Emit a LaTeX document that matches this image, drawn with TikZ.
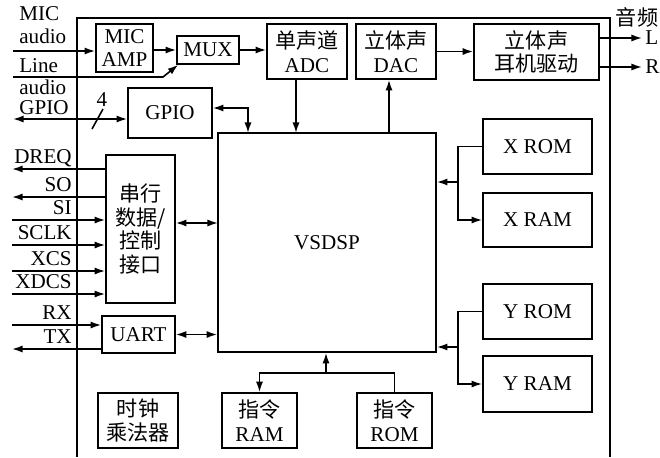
\documentclass[tikz,border=0pt]{standalone}
\usepackage{fontspec}
\setmainfont{Liberation Serif}
\newfontfamily\cjk{Noto Sans CJK SC}
\usetikzlibrary{positioning,arrows.meta,calc}
\tikzset{
  blk/.style  ={draw, line width=0.9pt, inner sep=0pt, align=center,
                font=\fontsize{12}{13.5}\selectfont},
  wire/.style ={draw, line width=0.9pt},
  sig/.style  ={wire, -{Latex[length=6pt,width=4pt]}},
  bisig/.style={wire, {Latex[length=6pt,width=4pt]}-{Latex[length=6pt,width=4pt]}},
  pin/.style  ={font=\fontsize{12}{13}\selectfont, inner sep=0pt},
}

\begin{document}
\begin{tikzpicture}[x=0.02cm,y=-0.02cm]
\useasboundingbox (0,0) rectangle (660,457);
% chip outline, runs off the bottom
\draw[line width=0.9pt] (77,457) -- (77,18) -- (610,18) -- (610,457);
\foreach \n/\x/\y/\w/\h/\t in {%
   micamp/124.5/48/57/48/{MIC\\AMP}, mux/208/50/62/28/MUX,
   adc/307/51.5/80/55/{{\cjk 单声道}\\ADC}, dac/396/51.5/80/55/{{\cjk 立体声}\\DAC},
   hp/536.5/52/125/56/{{\cjk 立体声}\\{\cjk 耳机驱动}},
   gpio/170/113/84/50/GPIO, dsp/327/242.5/218/219/VSDSP,
   sdi/140.5/229/69/148/{{\cjk 串行}\\{\cjk 数据/}\\{\cjk 控制}\\{\cjk 接口}},
   uart/138.5/334.5/73/37/UART, clk/138/420.5/80/55/{{\cjk 时钟}\\{\cjk 乘法器}},
   iram/259.5/420.5/75/55/{{\cjk 指令}\\RAM}, irom/394.5/420.5/75/55/{{\cjk 指令}\\ROM},
   xrom/537.5/146.5/109/55/X ROM, xram/537.5/220/109/54/X RAM,
   yrom/537.5/311.5/109/55/Y ROM, yram/537.5/384/109/56/Y RAM}
  {\node[blk, minimum width=\w*0.02cm, minimum height=\h*0.02cm] (\n) at (\x,\y) {\t};}

% audio path
\coordinate (micin) at (13,51);
\coordinate (linein) at (13,77);
\draw[sig] (micin) -- (micin -| micamp.west);
\draw[sig] (linein) -- ++(150,0) -- ($(mux.south west)+(2,0)$);
\draw[sig] (micamp.east |- mux.west) -- (mux.west);
\draw[sig] (mux.east) -- (mux.east -| adc.west);
\draw[sig] (dac.east) -- (dac.east -| hp.west);
\coordinate (outL) at (642,38);
\coordinate (outR) at (642,67);
\draw[sig] (outL -| hp.east) -- (outL) node[pin, anchor=west, xshift=1.5pt] (lL) {L};
\draw[sig] (outR -| hp.east) -- (outR) node[pin, anchor=west, xshift=1.5pt] (lR) {R};
\node[pin] (laudio) at (637,17) {\cjk 音频};
\foreach \t/\y [count=\i] in {MIC/20, audio/43, Line/72, audio/94, GPIO/114}
  {\node[pin, anchor=base west] (in\i) at (19,\y) {\t};}

% gpio
\coordinate (gpioext) at (13,119);
\draw[bisig] (gpioext) -- (gpioext -| gpio.west);
\draw[wire] ($(gpioext)+(79,10)$) -- ++(11,-20);
\node[pin] (bw) at (102,100) {4};
\coordinate (tapgpio) at (248,133);
\draw[bisig] ($(gpio.east)+(0,-5)$) -| (tapgpio);

% converters
\coordinate (tapadc) at (296,133);
\coordinate (tapdac) at (389,133);
\draw[sig] (tapadc |- adc.south) -- (tapadc);
\draw[sig] (tapdac) -- (tapdac |- dac.south);

% serial control port and uart
\foreach \s/\y in {DREQ/169, SO/197}
  {\coordinate (p\s) at (12,\y);
   \draw[sig] (p\s -| sdi.west) -- (p\s);
   \node[pin, anchor=base east] (l\s) at (72,\y-6) {\s};}
\foreach \s/\y in {SI/220, SCLK/245, XCS/271, XDCS/294}
  {\coordinate (p\s) at (12,\y);
   \draw[sig] (p\s) -- (p\s -| sdi.west);
   \node[pin, anchor=base east] (l\s) at (72,\y-6) {\s};}
\coordinate (pRX) at (12,325);
\coordinate (pTX) at (12,349);
\draw[sig] (pRX) -- (pRX -| uart.west);
\draw[sig] (pTX -| uart.west) -- (pTX);
\node[pin, anchor=base east] (lRX) at (72,319) {RX};
\node[pin, anchor=base east] (lTX) at (72,343) {TX};
\coordinate (tapsdi) at (218,223);
\draw[bisig] (tapsdi -| sdi.east) -- (tapsdi);
\draw[bisig] (uart.east) -- (uart.east -| dsp.west);

% data memories
\foreach \b/\y in {x/182, y/347}
  {\coordinate (\b bus) at (458,\y);
   \draw[sig] (\b bus) -- (\b bus -| dsp.east);
   \draw[wire] (\b rom.west) -| (\b bus);
   \draw[sig] (\b bus) |- (\b ram.west);}

% instruction memories
\coordinate (ibus) at (326,373);
\draw[sig] (ibus) -- (ibus |- dsp.south);
\draw[sig] (ibus) -| (iram.north);
\draw[wire] (ibus) -| (irom.north);
\end{tikzpicture}
\end{document}
